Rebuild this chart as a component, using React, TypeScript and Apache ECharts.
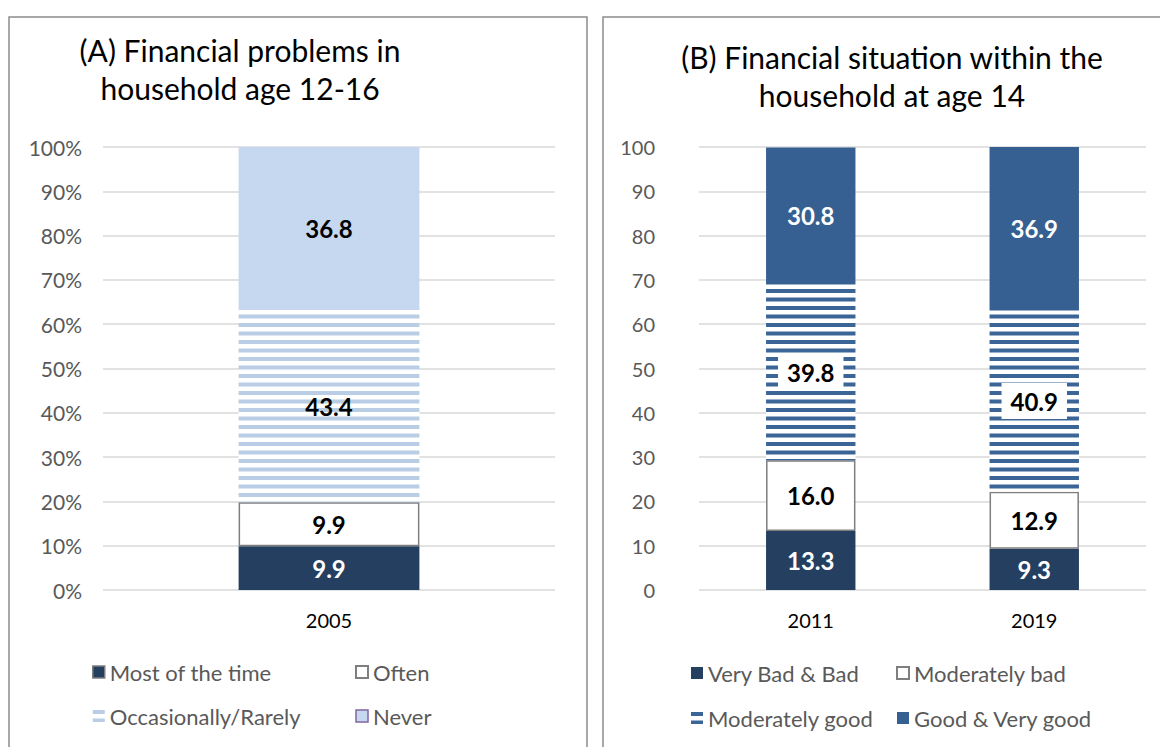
import React, { useEffect, useRef } from 'react';
import * as echarts from 'echarts';

// Panel A data
const categoriesA = ['2005'];
const mostOfTheTime = [9.9];
const often = [9.9];
const occasionallyRarely = [43.4];
const never = [36.8];

// Panel B data
const categoriesB = ['2011', '2019'];
const veryBadBad = [13.3, 9.3];
const moderatelyBad = [16.0, 12.9];
const moderatelyGood = [39.8, 40.9];
const goodVeryGood = [30.8, 36.9];

const titleA = ['(A) Financial problems in', 'household age 12-16'];
const titleB = ['(B) Financial situation within the', 'household at age 14'];

const FONT = 'Lato';
const NAVY = '#253F61';
const BLUE = '#366092';
const LIGHT = '#C6D8EF';
const GRID = '#D9D9D9';
const GREY_BORDER = '#7F7F7F';

function stripes(color: string) {
  const c = document.createElement('canvas');
  c.width = 8;
  c.height = 17;
  const ctx = c.getContext('2d')!;
  ctx.fillStyle = '#ffffff';
  ctx.fillRect(0, 0, 8, 17);
  ctx.fillStyle = color;
  ctx.fillRect(0, 0, 8, 4);
  ctx.fillRect(0, 8.5, 8, 4);
  return { image: c, repeat: 'repeat', imageWidth: 8, imageHeight: 17 } as any;
}

const fmt = (p: any) => Number(p.value).toFixed(1);

function lbl(color: string, extra: any = {}) {
  return {
    show: true,
    position: 'inside',
    color,
    fontFamily: FONT,
    fontWeight: 'bold',
    fontSize: 24,
    formatter: fmt,
    ...extra,
  };
}

function yAxis(gridIndex: number, pct: boolean, margin: number, size: number) {
  return {
    type: 'value',
    gridIndex,
    min: 0,
    max: 100,
    interval: 10,
    axisLine: { show: false },
    axisTick: { show: false },
    splitLine: { lineStyle: { color: GRID, width: 1.5 } },
    axisLabel: {
      color: '#595959',
      fontFamily: FONT,
      fontSize: size,
      margin,
      formatter: pct ? '{value}%' : '{value}',
    },
  };
}

function xAxis(gridIndex: number, data: string[]) {
  return {
    type: 'category',
    gridIndex,
    data,
    axisLine: { show: false },
    axisTick: { show: false },
    axisLabel: { color: '#000', fontFamily: FONT, fontSize: 20, margin: 20 },
  };
}

function legend(left: number, top: number, gap: number, data: any[]) {
  return {
    left,
    top,
    orient: 'vertical',
    itemGap: gap,
    itemWidth: 12,
    itemHeight: 12,
    icon: 'rect',
    selectedMode: false,
    padding: 0,
    textStyle: { color: '#595959', fontFamily: FONT, fontSize: 22, lineHeight: 24 },
    data,
  };
}

export default function App() {
  const ref = useRef<HTMLDivElement>(null);
  useEffect(() => {
    document.body.style.margin = '0';
    const chart = echarts.init(ref.current!, null, { renderer: 'svg' });
    const stripeA = stripes('#B9CDE5');
    const stripeB = stripes('#3B6497');
    const titleText = (x: number, y: number, t: string) => ({
      type: 'text',
      x,
      y,
      style: {
        text: t,
        fontFamily: FONT,
        fontSize: 30,
        fill: '#000',
        textAlign: 'center',
        textVerticalAlign: 'middle',
      },
    });
    chart.setOption({
      animation: false,
      backgroundColor: '#fff',
      graphic: [
        { type: 'rect', shape: { x: 9, y: 17, width: 578, height: 800 }, style: { fill: 'none', stroke: '#8C8C8C', lineWidth: 1.5 } },
        { type: 'rect', shape: { x: 603, y: 17, width: 620, height: 800 }, style: { fill: 'none', stroke: '#8C8C8C', lineWidth: 1.5 } },
        titleText(240, 50, titleA[0]),
        titleText(240, 88, titleA[1]),
        titleText(892, 57, titleB[0]),
        titleText(892, 95, titleB[1]),
      ],
      grid: [
        { left: 103, right: 1160 - 555, top: 147, bottom: 747 - 590 },
        { left: 699, right: 1160 - 1146, top: 147, bottom: 747 - 590 },
      ],
      xAxis: [xAxis(0, categoriesA), xAxis(1, categoriesB)],
      yAxis: [yAxis(0, true, 21, 21), yAxis(1, false, 44, 20)],
      legend: [
        legend(92, 660, 20, [
          { name: 'Most of the time', itemStyle: { borderColor: GREY_BORDER, borderWidth: 1.5 } },
          'Occasionally/Rarely',
        ]),
        legend(355, 660, 20, [
          'Often',
          { name: 'Never', itemStyle: { borderColor: '#8064A2', borderWidth: 1.5 } },
        ]),
        legend(691, 661, 21, ['Very Bad & Bad', 'Moderately good']),
        legend(896, 661, 21, ['Moderately bad', 'Good & Very good']),
      ],
      series: [
        { name: 'Most of the time', type: 'bar', stack: 'a', xAxisIndex: 0, yAxisIndex: 0, barWidth: '40%', data: mostOfTheTime, itemStyle: { color: NAVY }, label: lbl('#fff') },
        { name: 'Often', type: 'bar', stack: 'a', xAxisIndex: 0, yAxisIndex: 0, barWidth: '40%', data: often, itemStyle: { color: '#fff', borderColor: GREY_BORDER, borderWidth: 1.5 }, label: lbl('#000') },
        { name: 'Occasionally/Rarely', type: 'bar', stack: 'a', xAxisIndex: 0, yAxisIndex: 0, barWidth: '40%', data: occasionallyRarely, itemStyle: { color: stripeA }, label: lbl('#000') },
        { name: 'Never', type: 'bar', stack: 'a', xAxisIndex: 0, yAxisIndex: 0, barWidth: '40%', data: never, itemStyle: { color: LIGHT }, label: lbl('#000') },
        { name: 'Very Bad & Bad', type: 'bar', stack: 'b', xAxisIndex: 1, yAxisIndex: 1, barWidth: '40%', data: veryBadBad, itemStyle: { color: NAVY }, label: lbl('#fff') },
        { name: 'Moderately bad', type: 'bar', stack: 'b', xAxisIndex: 1, yAxisIndex: 1, barWidth: '40%', data: moderatelyBad, itemStyle: { color: '#fff', borderColor: GREY_BORDER, borderWidth: 1.5 }, label: lbl('#000') },
        { name: 'Moderately good', type: 'bar', stack: 'b', xAxisIndex: 1, yAxisIndex: 1, barWidth: '40%', data: moderatelyGood, itemStyle: { color: stripeB }, label: lbl('#000', { backgroundColor: '#fff', padding: [6, 9] }) },
        { name: 'Good & Very good', type: 'bar', stack: 'b', xAxisIndex: 1, yAxisIndex: 1, barWidth: '40%', data: goodVeryGood, itemStyle: { color: BLUE }, label: lbl('#fff') },
      ],
    });
    return () => chart.dispose();
  }, []);
  return <div ref={ref} style={{ width: 1160, height: 747 }} />;
}
